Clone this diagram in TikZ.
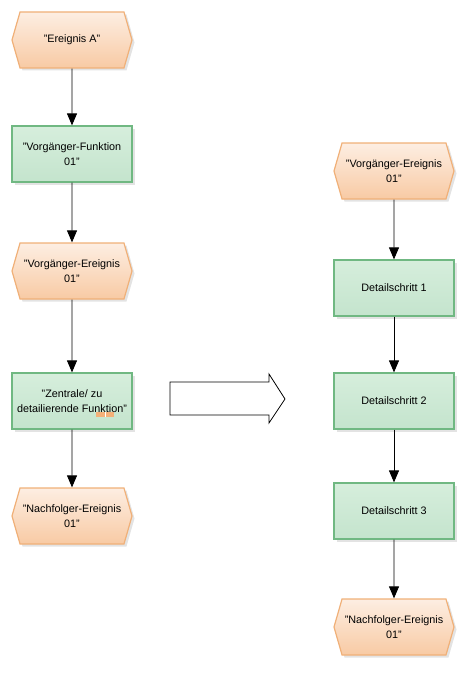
\documentclass[tikz,border=0pt]{standalone}
\usepackage{fontspec}
\setmainfont{Liberation Sans}
\usetikzlibrary{shapes.symbols,shadows,arrows.meta}
\definecolor{evTop}{RGB}{253,238,226}
\definecolor{evBot}{RGB}{248,202,164}
\definecolor{evLine}{RGB}{240,176,120}
\definecolor{fnTop}{RGB}{214,238,220}
\definecolor{fnBot}{RGB}{196,228,205}
\definecolor{fnLine}{RGB}{112,184,130}
\definecolor{icon}{RGB}{244,176,120}
\tikzset{
  base/.style={font=\fontsize{10.8}{14.5}\selectfont, align=center, line width=1.2pt,
    drop shadow={shadow xshift=2.5pt, shadow yshift=-2.5pt, fill=black!22}},
  event/.style={base, signal, signal to=west and east, signal pointer angle=148,
    minimum width=120pt, minimum height=56pt, inner xsep=0pt, inner ysep=0pt,
    draw=evLine, top color=evTop, bottom color=evBot},
  func/.style={base, rectangle, minimum width=120pt, minimum height=56pt,
    draw=fnLine, top color=fnTop, bottom color=fnBot},
  flow/.style={line width=0.9pt, -{Triangle[length=12pt,width=10pt]}},
}
\begin{document}
\begin{tikzpicture}[x=1pt,y=-1pt]
\useasboundingbox (0,0) rectangle (464,674);
% left column
\node[event] (ea) at (72,40) {"Ereignis A"};
\node[func]  (f1) at (72,154) {"Vorgänger-Funktion\\01"};
\node[event] (e2) at (72,271) {"Vorgänger-Ereignis\\01"};
\node[func]  (f2) at (72,401) {"Zentrale/ zu\\detailierende Funktion"};
\node[event] (e3) at (72,516) {"Nachfolger-Ereignis\\01"};
\fill[icon] (96,412) rectangle (114,417);
\draw[white, line width=0.4pt] (105,412) -- (105,417);
\draw[flow] (ea) -- (f1);
\draw[flow] (f1) -- (e2);
\draw[flow] (e2) -- (f2);
\draw[flow] (f2) -- (e3);
% right column
\node[event] (r1) at (394,171) {"Vorgänger-Ereignis\\01"};
\node[func]  (d1) at (394,288) {Detailschritt 1};
\node[func]  (d2) at (394,401) {Detailschritt 2};
\node[func]  (d3) at (394,511) {Detailschritt 3};
\node[event] (r2) at (394,627) {"Nachfolger-Ereignis\\01"};
\draw[flow] (r1) -- (d1);
\draw[flow] (d1) -- (d2);
\draw[flow] (d2) -- (d3);
\draw[flow] (d3) -- (r2);
% big arrow
\draw[line width=0.8pt, fill=white] (170,382) -- (269,382) -- (269,374) -- (285,399)
  -- (269,423) -- (269,415) -- (170,415) -- cycle;
\end{tikzpicture}
\end{document}
